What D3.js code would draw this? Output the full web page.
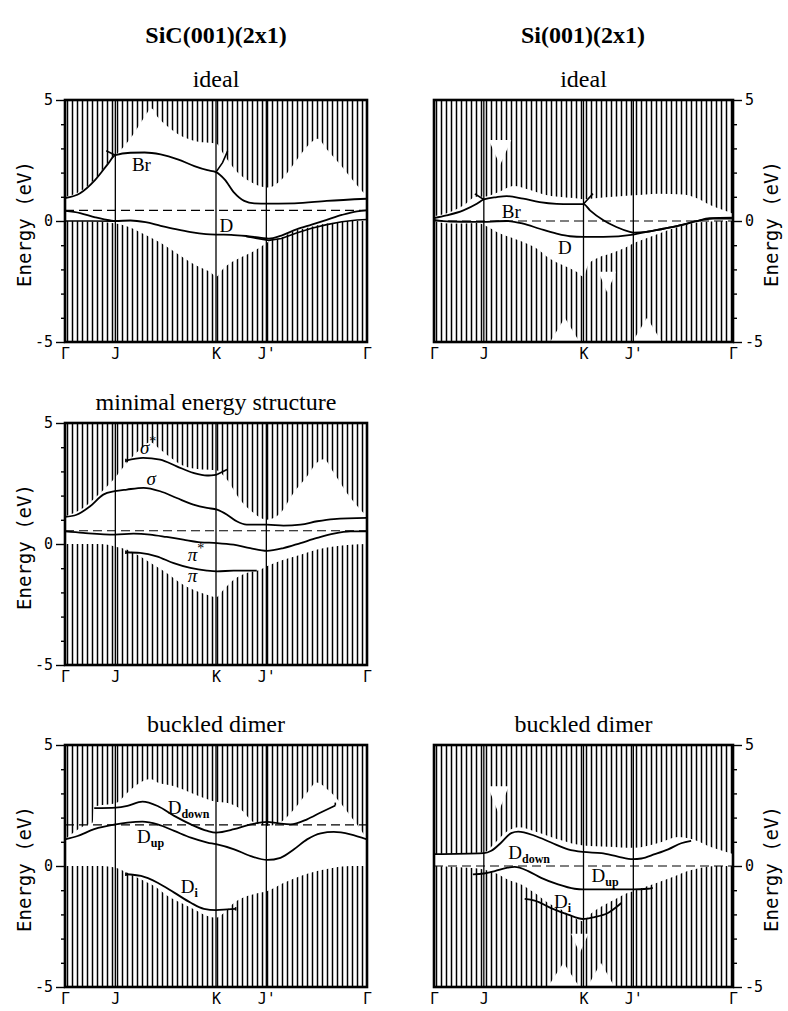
<!DOCTYPE html>
<html>
<head>
<meta charset="utf-8">
<script src="https://cdn.jsdelivr.net/npm/d3@7"></script>
<style>
  body { margin: 0; background: #fff; }
  text, tspan { fill: #000; }
</style>
</head>
<body>
<div id="chart"></div>
<script>
// k path: Γ=0, J=1, K=3, J'=4, Γ=6
var kTicks = [0, 1, 3, 4, 6];
var kLabels = ["Γ", "J", "K", "J'", "Γ"];
var symLines = [1, 3, 4];
var eTicks = [-5, 0, 5];
var eMinor = [-4, -3, -2, -1, 1, 2, 3, 4];

// ---- SiC(001)(2x1) ideal ----
var sicIdealCB = [[0,1.0],[0.25,1.17],[0.45,1.45],[0.65,1.86],[0.85,2.4],[1.0,2.7],[1.18,3.1],[1.38,3.65],[1.58,4.3],[1.72,4.65],[1.84,4.3],[2.04,3.9],[2.24,3.6],[2.44,3.4],[2.7,3.25],[3.0,3.2],[3.17,2.7],[3.43,2.0],[3.7,1.6],[4.03,1.38],[4.3,1.7],[4.56,2.4],[4.82,3.1],[5.02,3.4],[5.2,2.96],[5.48,2.3],[5.75,1.6],[6,1.0]];
var sicIdealVB = [[0,0],[0.6,-0.03],[0.9,-0.07],[1.11,-0.14],[1.31,-0.28],[1.5,-0.48],[1.71,-0.69],[1.9,-0.9],[2.1,-1.17],[2.3,-1.45],[2.5,-1.72],[2.7,-1.93],[2.9,-2.13],[3.0,-2.3],[3.13,-2.0],[3.3,-1.72],[3.5,-1.5],[3.7,-1.3],[3.9,-1.05],[4.05,-0.85],[4.29,-0.69],[4.56,-0.41],[4.82,-0.28],[5.08,-0.14],[5.35,-0.07],[5.6,0],[6,0]];
var sicIdealBr = [[0,0.95],[0.3,1.15],[0.6,1.7],[0.85,2.35],[1.0,2.72],[1.3,2.82],[1.58,2.83],[1.9,2.75],[2.24,2.55],[2.57,2.27],[2.83,2.1],[3.0,2.02],[3.17,1.72],[3.36,1.17],[3.56,0.83],[3.76,0.73],[4.03,0.72],[4.56,0.73],[5.2,0.83],[6,0.92]];
var sicIdealD = [[0,0.42],[0.3,0.33],[0.6,0.15],[0.9,0.02],[1.0,0],[1.3,0.02],[1.6,-0.05],[1.9,-0.2],[2.2,-0.34],[2.5,-0.46],[2.8,-0.54],[3.0,-0.56],[3.3,-0.57],[3.6,-0.62],[3.9,-0.7],[4.05,-0.73],[4.3,-0.6],[4.6,-0.35],[4.9,-0.15],[5.2,0.05],[5.5,0.25],[5.8,0.4],[6,0.44]];
var sicIdealEdgeA = [[0,0],[0.5,0],[1.0,-0.01]];
var sicIdealEdgeB = [[3.6,-0.64],[4.05,-0.8],[4.3,-0.72],[4.6,-0.5],[4.9,-0.3],[5.2,-0.15],[5.5,-0.03],[5.8,0.04],[6,0.06]];
var sicIdealStubs = [[[0.82,2.9],[1.0,2.72]], [[3.0,2.02],[3.13,2.41],[3.23,2.89]]];
var sicIdealEF = 0.44;
var sicIdealLabels = [["Br","","",1.33,2.07],["D","","",3.07,-0.45]];

// ---- Si(001)(2x1) ideal ----
var siIdealCB = [[0,0.2],[0.3,0.35],[0.6,0.65],[0.85,1.0],[1.0,1.0],[1.3,1.2],[1.6,1.45],[1.9,1.3],[2.2,1.1],[2.5,1.0],[2.8,0.95],[3.0,0.9],[3.3,0.95],[3.6,1.0],[4.0,1.06],[4.5,1.13],[5.0,1.1],[5.3,0.92],[5.55,0.65],[5.8,0.45],[6,0.3]];
var siIdealVB = [[0,0],[0.3,-0.1],[0.6,-0.1],[0.86,-0.08],[1.09,-0.25],[1.26,-0.45],[1.52,-0.66],[1.79,-0.87],[2.06,-1.14],[2.32,-1.55],[2.59,-1.83],[2.86,-2.1],[3.0,-2.3],[3.09,-1.83],[3.26,-1.55],[3.53,-1.35],[3.8,-1.14],[4.06,-0.87],[4.33,-0.66],[4.6,-0.45],[4.86,-0.27],[5.13,-0.1],[5.4,-0.04],[5.67,-0.01],[6,0]];
// gaps: [k from, k to, base energy, apex energy]
var siIdealPockets = [[1.1,1.55,3.35,2.3],[2.3,2.95,-5.1,-4.0],[3.3,3.65,-2.1,-2.95],[3.95,4.6,-5.1,-4.0]];
var siIdealBr = [[0,0.12],[0.25,0.23],[0.59,0.44],[0.86,0.71],[1.0,0.89],[1.26,0.99],[1.46,1.03],[1.79,0.92],[2.12,0.78],[2.46,0.71],[2.73,0.7],[3.0,0.7],[3.13,0.44],[3.4,0.03],[3.66,-0.25],[3.93,-0.45],[4.0,-0.48],[4.26,-0.45],[4.6,-0.32],[4.93,-0.18],[5.26,-0.01],[5.53,0.12],[6,0.14]];
var siIdealD = [[0,0.05],[0.32,-0.02],[0.79,-0.04],[1.0,-0.04],[1.26,-0.01],[1.46,0],[1.79,-0.11],[2.12,-0.32],[2.46,-0.52],[2.73,-0.63],[3.0,-0.66],[3.4,-0.66],[4.0,-0.56],[4.26,-0.45],[4.6,-0.32],[4.93,-0.18],[5.26,-0.01],[5.6,0.1],[6,0.1]];
var siIdealStubs = [[[0.82,1.12],[1.0,0.89]], [[3.0,0.7],[3.19,1.13]]];
var siIdealEF = 0;
var siIdealLabels = [["Br","","",1.36,0.12],["D","","",2.49,-1.36]];

// ---- SiC(001)(2x1) minimal energy structure ----
var sicMinCB = [[0,1.14],[0.36,1.49],[0.7,2.11],[0.96,2.66],[1.23,3.35],[1.49,3.9],[1.69,4.2],[1.89,3.9],[2.06,3.63],[2.39,3.2],[2.72,3.08],[3.0,3.05],[3.22,2.66],[3.48,1.83],[3.75,1.28],[4.01,1.0],[4.28,1.28],[4.54,2.11],[4.81,2.8],[5.0,3.35],[5.14,3.5],[5.34,2.94],[5.6,2.11],[5.87,1.42],[6,1.14]];
var sicMinVB = [[0,0],[0.7,0],[0.99,-0.1],[1.23,-0.23],[1.49,-0.51],[1.76,-0.86],[2.02,-1.2],[2.29,-1.61],[2.55,-1.89],[2.82,-2.1],[3.0,-2.2],[3.15,-1.89],[3.35,-1.48],[3.61,-1.2],[3.88,-1.06],[4.01,-0.92],[4.34,-0.65],[4.68,-0.44],[5.01,-0.23],[5.34,-0.1],[5.67,-0.03],[6,0]];
var sicMinSigmaStar = [[1.21,3.45],[1.55,3.56],[1.89,3.49],[2.22,3.21],[2.55,2.94],[2.82,2.83],[3.02,2.87]];
var sicMinSigma = [[0,1.12],[0.23,1.21],[0.5,1.56],[0.76,2.04],[0.99,2.18],[1.23,2.25],[1.56,2.32],[1.89,2.18],[2.22,1.9],[2.55,1.63],[2.82,1.49],[3.02,1.42],[3.22,1.21],[3.41,0.94],[3.61,0.8],[4.01,0.8],[4.34,0.76],[4.68,0.8],[5.01,0.94],[5.34,1.03],[6,1.08]];
var sicMinPiStar = [[0,0.52],[0.36,0.46],[0.99,0.39],[1.36,0.43],[1.69,0.39],[2.02,0.29],[2.35,0.18],[2.69,0.07],[3.02,0.04],[3.35,-0.03],[3.68,-0.17],[4.01,-0.28],[4.34,-0.17],[4.68,0.04],[5.01,0.25],[5.34,0.43],[5.67,0.52],[6,0.52]];
var sicMinPi = [[1.21,-0.34],[1.49,-0.37],[1.82,-0.51],[2.16,-0.79],[2.49,-0.99],[2.82,-1.1],[3.02,-1.13],[3.35,-1.1],[3.81,-1.1]];
var sicMinStubs = [[[3.02,2.87],[3.22,3.08]], [[1.21,3.38],[1.21,3.52]], [[1.21,-0.27],[1.21,-0.41]]];
var sicMinEF = 0.55;
var sicMinLabels = [["σ","","*",1.49,3.73],["σ","","",1.62,2.42],["π","","*",2.44,-0.69],["π","","",2.44,-1.59]];

// ---- SiC(001)(2x1) buckled dimer ----
var sicBuckCB = [[0,1.1],[0.38,1.66],[0.55,1.8],[0.58,2.45],[1.01,2.6],[1.24,3.03],[1.5,3.45],[1.7,3.59],[1.84,3.45],[2.17,3.3],[2.5,3.03],[2.83,2.76],[3.0,2.65],[3.23,2.6],[3.49,2.34],[3.75,1.8],[4.02,1.66],[4.28,1.8],[4.55,2.34],[4.81,3.03],[5.0,3.45],[5.21,3.17],[5.41,2.76],[5.67,2.07],[5.87,1.52],[6,1.1]];
var sicBuckVB = [[0,0],[0.7,0],[1.01,-0.07],[1.24,-0.28],[1.5,-0.55],[1.77,-0.83],[2.04,-1.24],[2.3,-1.52],[2.56,-1.79],[2.83,-2.07],[3.0,-2.14],[3.16,-1.93],[3.36,-1.52],[3.62,-1.24],[3.89,-1.1],[4.02,-1.03],[4.35,-0.69],[4.68,-0.41],[5.01,-0.21],[5.34,-0.07],[5.67,0],[6,0]];
var sicBuckDdown = [[0.58,2.39],[1.01,2.41],[1.24,2.48],[1.54,2.66],[1.84,2.48],[2.17,2.07],[2.5,1.72],[2.83,1.45],[3.0,1.38],[3.36,1.52],[3.69,1.72],[4.02,1.82],[4.22,1.77],[4.48,1.72],[4.81,1.93],[5.08,2.21],[5.37,2.5]];
var sicBuckDup = [[0,1.1],[0.25,1.24],[0.58,1.52],[1.01,1.72],[1.24,1.79],[1.54,1.83],[1.84,1.72],[2.17,1.45],[2.5,1.17],[2.83,0.97],[3.0,0.9],[3.36,0.69],[3.69,0.41],[4.02,0.25],[4.28,0.34],[4.55,0.69],[4.81,1.1],[5.08,1.35],[5.34,1.41],[5.67,1.31],[6,1.1]];
var sicBuckDi = [[1.21,-0.34],[1.51,-0.41],[1.84,-0.69],[2.17,-1.1],[2.5,-1.52],[2.76,-1.77],[3.0,-1.82],[3.23,-1.79],[3.39,-1.77]];
var sicBuckStubs = [[[5.37,2.5],[5.37,2.62]], [[1.21,-0.27],[1.21,-0.41]], [[3.39,-1.7],[3.39,-1.84]]];
var sicBuckEF = 1.7;
var sicBuckLabels = [["D","down","",2.04,2.14],["D","up","",1.43,0.97],["D","i","",2.3,-1.13]];

// ---- Si(001)(2x1) buckled dimer ----
var siBuckCB = [[0,0.5],[1.0,0.56],[1.2,0.9],[1.45,1.4],[1.7,1.6],[2.0,1.45],[2.5,1.1],[3.0,0.85],[3.5,0.8],[4.0,0.75],[4.5,0.95],[4.9,1.2],[5.2,1.1],[5.6,0.75],[6,0.5]];
var siBuckVB = [[0,0],[0.67,-0.07],[1.0,-0.14],[1.22,-0.28],[1.48,-0.56],[1.75,-0.76],[2.02,-1.11],[2.29,-1.53],[2.55,-1.8],[2.82,-2.15],[3.0,-2.29],[3.09,-2.08],[3.36,-1.67],[3.62,-1.39],[3.89,-1.11],[4.0,-1.04],[4.29,-0.83],[4.56,-0.63],[4.83,-0.42],[5.09,-0.21],[5.36,-0.07],[5.7,0],[6,0]];
var siBuckPockets = [[1.08,1.5,3.3,2.2],[2.25,2.95,-5.1,-4.0],[3.05,3.65,-5.1,-4.0],[2.75,3.1,-2.8,-3.6]];
var siBuckDdown = [[0,0.49],[1.0,0.53],[1.15,0.63],[1.35,0.97],[1.55,1.36],[1.69,1.42],[2.02,1.25],[2.35,0.97],[2.69,0.69],[2.99,0.58],[3.36,0.53],[3.69,0.39],[3.99,0.28],[4.16,0.31],[4.43,0.49],[4.7,0.69],[4.96,0.94],[5.16,1.04]];
var siBuckDup = [[0.78,-0.35],[1.0,-0.31],[1.22,-0.21],[1.48,-0.07],[1.62,-0.04],[1.89,-0.21],[2.15,-0.49],[2.49,-0.76],[2.82,-0.94],[2.99,-0.97],[3.36,-0.97],[3.99,-0.97],[4.29,-0.94],[4.39,-0.9]];
var siBuckDi = [[1.82,-1.36],[2.02,-1.43],[2.35,-1.74],[2.69,-2.01],[2.99,-2.19],[3.22,-2.11],[3.49,-1.94],[3.76,-1.53]];
var siBuckStubs = [];
var siBuckEF = 0;
var siBuckLabels = [["D","down","",1.49,0.28],["D","up","",3.16,-0.66],["D","i","",2.41,-1.75]];

// panel layout
var panels = [
  {id: "p1", x: 65, y: 100, w: 302, h: 242, side: "left", title: "ideal", cb: sicIdealCB, vb: sicIdealVB, pockets: [],
   bands: [sicIdealBr, sicIdealD], stubs: sicIdealStubs.concat([sicIdealEdgeA, sicIdealEdgeB]), ef: sicIdealEF, labels: sicIdealLabels},
  {id: "p2", x: 434, y: 100, w: 299, h: 242, side: "right", title: "ideal", cb: siIdealCB, vb: siIdealVB, pockets: siIdealPockets,
   bands: [siIdealBr, siIdealD], stubs: siIdealStubs, ef: siIdealEF, labels: siIdealLabels},
  {id: "p3", x: 65, y: 423, w: 302, h: 242, side: "left", title: "minimal energy structure", cb: sicMinCB, vb: sicMinVB, pockets: [],
   bands: [sicMinSigmaStar, sicMinSigma, sicMinPiStar, sicMinPi], stubs: sicMinStubs, ef: sicMinEF, labels: sicMinLabels},
  {id: "p4", x: 65, y: 745, w: 302, h: 242, side: "left", title: "buckled dimer", cb: sicBuckCB, vb: sicBuckVB, pockets: [],
   bands: [sicBuckDdown, sicBuckDup, sicBuckDi], stubs: sicBuckStubs, ef: sicBuckEF, labels: sicBuckLabels},
  {id: "p5", x: 434, y: 745, w: 299, h: 242, side: "right", title: "buckled dimer", cb: siBuckCB, vb: siBuckVB, pockets: siBuckPockets,
   bands: [siBuckDdown, siBuckDup, siBuckDi], stubs: siBuckStubs, ef: siBuckEF, labels: siBuckLabels}
];

var serif = "'Liberation Serif', 'Times New Roman', serif";
var mono = "'DejaVu Sans Mono', monospace";

var svg = d3.select("#chart").append("svg")
    .attr("width", 788)
    .attr("height", 1011);

svg.append("rect").attr("width", 788).attr("height", 1011).attr("fill", "#fff");

var defs = svg.append("defs");
var hatch = defs.append("pattern")
    .attr("id", "hatch")
    .attr("patternUnits", "userSpaceOnUse")
    .attr("width", 5)
    .attr("height", 10);
hatch.append("line")
    .attr("x1", 2.5).attr("x2", 2.5)
    .attr("y1", -1).attr("y2", 11)
    .attr("stroke", "#000")
    .attr("stroke-width", 1.5);

// column headings
svg.append("text").attr("x", 216).attr("y", 43)
    .attr("text-anchor", "middle")
    .style("font-family", serif).style("font-weight", "bold").style("font-size", "24px")
    .text("SiC(001)(2x1)");
svg.append("text").attr("x", 583).attr("y", 43)
    .attr("text-anchor", "middle")
    .style("font-family", serif).style("font-weight", "bold").style("font-size", "24px")
    .text("Si(001)(2x1)");

function drawPanel(p) {
    var g = svg.append("g").attr("transform", "translate(" + p.x + "," + p.y + ")");

    var x = d3.scaleLinear().domain([0, 6]).range([0, p.w]);
    var y = d3.scaleLinear().domain([-5, 5]).range([p.h, 0]);

    defs.append("clipPath").attr("id", "clip-" + p.id)
        .append("rect").attr("width", p.w).attr("height", p.h);

    var body = g.append("g").attr("clip-path", "url(#clip-" + p.id + ")");

    // projected bulk bands (hatched)
    var upper = d3.area()
        .x(function(d) { return x(d[0]); })
        .y0(y(5) - 2)
        .y1(function(d) { return y(d[1]); })
        .curve(d3.curveMonotoneX);
    var lower = d3.area()
        .x(function(d) { return x(d[0]); })
        .y0(y(-5) + 2)
        .y1(function(d) { return y(d[1]); })
        .curve(d3.curveMonotoneX);

    body.append("path").datum(p.cb).attr("d", upper).attr("fill", "url(#hatch)");
    body.append("path").datum(p.vb).attr("d", lower).attr("fill", "url(#hatch)");

    // gaps inside the projected bulk bands (triangular white pockets)
    body.selectAll("path.pocket")
        .data(p.pockets)
        .enter()
        .append("path")
            .attr("class", "pocket")
            .attr("d", function(d) {
                return "M" + x(d[0]) + "," + y(d[2]) +
                       "L" + x((d[0] + d[1]) / 2) + "," + y(d[3]) +
                       "L" + x(d[1]) + "," + y(d[2]) + "Z";
            })
            .attr("fill", "#fff");

    // symmetry point lines
    body.selectAll("line.sym")
        .data(symLines)
        .enter()
        .append("line")
            .attr("class", "sym")
            .attr("x1", function(d) { return x(d); })
            .attr("x2", function(d) { return x(d); })
            .attr("y1", 0).attr("y2", p.h)
            .attr("stroke", "#000").attr("stroke-width", 1.3);

    // Fermi level
    body.append("line")
        .attr("x1", 0).attr("x2", p.w)
        .attr("y1", y(p.ef)).attr("y2", y(p.ef))
        .attr("stroke", "#000").attr("stroke-width", 1.1)
        .attr("stroke-dasharray", "9,5");

    // surface bands
    var curve = d3.line()
        .x(function(d) { return x(d[0]); })
        .y(function(d) { return y(d[1]); })
        .curve(d3.curveMonotoneX);
    var straight = d3.line()
        .x(function(d) { return x(d[0]); })
        .y(function(d) { return y(d[1]); });

    body.selectAll("path.band")
        .data(p.bands)
        .enter()
        .append("path")
            .attr("class", "band")
            .attr("d", curve)
            .attr("fill", "none").attr("stroke", "#000").attr("stroke-width", 1.8);

    body.selectAll("path.stub")
        .data(p.stubs)
        .enter()
        .append("path")
            .attr("class", "stub")
            .attr("d", straight)
            .attr("fill", "none").attr("stroke", "#000").attr("stroke-width", 1.6);

    // band labels
    p.labels.forEach(function(l) {
        var t = g.append("text")
            .attr("x", x(l[3])).attr("y", y(l[4]))
            .style("font-family", serif).style("font-size", "19px");
        t.append("tspan").text(l[0]).style("font-style", (l[0] === "σ" || l[0] === "π") ? "italic" : "normal");
        if (l[1]) t.append("tspan").attr("dy", 4).style("font-size", "12px").style("font-weight", "bold").text(l[1]);
        if (l[2]) t.append("tspan").attr("dy", -8).style("font-size", "14px").text(l[2]);
    });

    // frame
    g.append("rect")
        .attr("width", p.w).attr("height", p.h)
        .attr("fill", "none").attr("stroke", "#000").attr("stroke-width", 2.6);

    // energy axis
    var axisMaker = p.side === "left" ? d3.axisLeft : d3.axisRight;
    var majorAxis = axisMaker(y).tickValues(eTicks).tickSize(9).tickPadding(3)
        .tickFormat(function(d) { return String(d); });
    var minorAxis = axisMaker(y).tickValues(eMinor).tickSize(4).tickFormat("");

    var ax = g.append("g")
        .attr("transform", p.side === "left" ? null : "translate(" + p.w + ",0)");
    ax.append("g").call(minorAxis);
    ax.append("g").call(majorAxis);
    ax.selectAll(".domain").remove();
    ax.selectAll(".tick line").attr("stroke", "#000").attr("stroke-width", 1.4);
    ax.selectAll(".tick text").style("font-family", mono).style("font-size", "15px");

    g.append("text")
        .attr("transform", "translate(" + (p.side === "left" ? -34 : p.w + 45) + "," + (p.h / 2 + 3) + ") rotate(-90)")
        .attr("text-anchor", "middle")
        .style("font-family", mono).style("font-size", "19px")
        .text("Energy (eV)");

    // k axis
    var kAxis = d3.axisBottom(x).tickValues(kTicks).tickSize(0).tickPadding(6)
        .tickFormat(function(d, i) { return kLabels[i]; });
    var kx = g.append("g").attr("transform", "translate(0," + p.h + ")").call(kAxis);
    kx.selectAll(".domain").remove();
    kx.selectAll(".tick text").style("font-family", mono).style("font-size", "15px");

    // panel title
    g.append("text")
        .attr("x", p.w / 2).attr("y", -13)
        .attr("text-anchor", "middle")
        .style("font-family", serif).style("font-size", "24px")
        .text(p.title);
}

panels.forEach(drawPanel);
</script>
</body>
</html>
